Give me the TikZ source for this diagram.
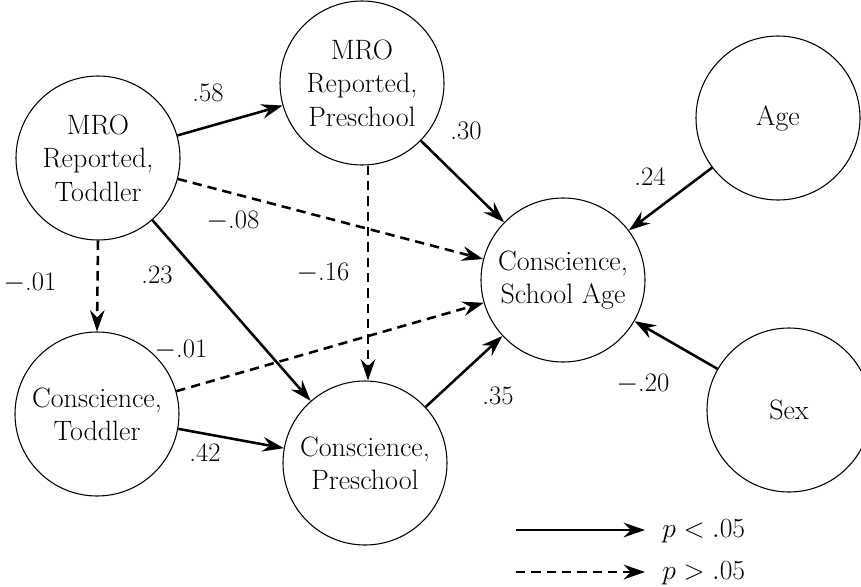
\documentclass[tikz,border=0pt]{standalone}
\usetikzlibrary{arrows.meta}
\begin{document}
\begin{tikzpicture}[x=0.75pt,y=-0.75pt,
  var/.style={circle,draw,line width=0.8pt,minimum size=123pt,inner sep=0pt,align=center,font=\fontsize{21}{25}\selectfont},
  lbl/.style={font=\fontsize{20}{24}\selectfont,inner sep=0pt},
  sig/.style={line width=1.9pt,-{Stealth[length=16pt,width=11pt,inset=5.5pt]}},
  ns/.style={sig,dash pattern=on 7pt off 4.5pt}]
\useasboundingbox (0,0) rectangle (861,586);
\node[var] (mrot) at (98,158) {MRO\\Reported,\\Toddler};
\node[var] (mrop) at (362,83) {MRO\\Reported,\\Preschool};
\node[var] (csa) at (563,280) {Conscience,\\School Age};
\node[var] (age) at (778,118) {Age};
\node[var] (sex) at (789,410) {Sex};
\node[var] (ct) at (97,414) {Conscience,\\Toddler};
\node[var] (cp) at (365,463) {Conscience,\\Preschool};
\draw[sig] (mrot) -- (mrop);
\draw[sig] (mrop) -- (csa);
\draw[sig] (age) -- (csa);
\draw[ns] (mrot) -- (csa);
\draw[ns] (mrot.south) -- (ct.north);
\draw[sig] (mrot) -- (cp);
\draw[ns] (mrop.south) ++(6,0) coordinate (mps) -- (mps |- cp.north) ;
\draw[ns] (ct) -- (csa);
\draw[sig] (ct) -- (cp);
\draw[sig] (cp) -- (csa);
\draw[sig] (sex) -- (csa);
\node[lbl] (l1) at (208,93) {.58};
\node[lbl] (l2) at (466,131) {.30};
\node[lbl] (l3) at (650,177) {.24};
\node[lbl] (l4) at (233,221) {$-$.08};
\node[lbl] (l5) at (30,283) {$-$.01};
\node[lbl] (l6) at (157,275) {.23};
\node[lbl] (l7) at (323,273) {$-$.16};
\node[lbl] (l8) at (181,350) {$-$.01};
\node[lbl] (l9) at (498,396) {.35};
\node[lbl] (l10) at (643,384) {$-$.20};
\node[lbl] (l11) at (205,453) {.42};
\coordinate (s1) at (516,530);
\coordinate (e1) at (645,530);
\coordinate (s2) at (516,572);
\coordinate (e2) at (645,572);
\draw[sig] (s1) -- (e1);
\draw[ns] (s2) -- (e2);
\node[lbl,anchor=west] (k1) at (662,531) {$p<.05$};
\node[lbl,anchor=west] (k2) at (662,573) {$p>.05$};
\end{tikzpicture}
\end{document}
